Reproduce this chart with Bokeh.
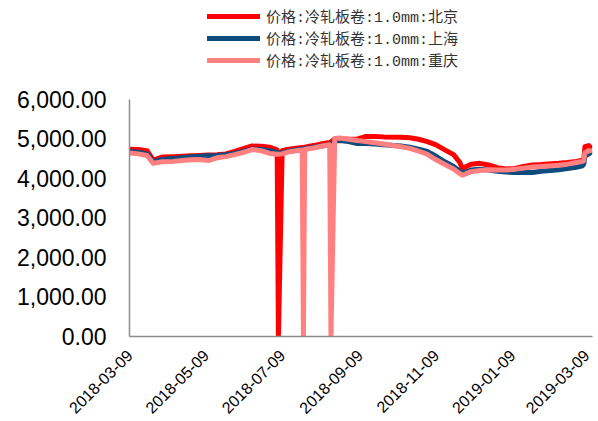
import math
from datetime import datetime

from bokeh.plotting import figure
from bokeh.models import (ColumnDataSource, Range1d, FixedTicker, DatetimeTickFormatter,
                          NumeralTickFormatter, Legend, LegendItem)
from bokeh.embed import file_html
from bokeh.resources import INLINE

# Cold-rolled coil 1.0mm prices (yuan/ton) by city
dates = [
    "2018-03-09", "2018-03-16", "2018-03-23", "2018-03-28", "2018-04-04", "2018-04-13",
    "2018-04-20", "2018-04-27", "2018-05-04", "2018-05-11", "2018-05-18", "2018-05-25",
    "2018-06-01", "2018-06-08", "2018-06-15", "2018-06-22", "2018-06-29", "2018-07-05",
    "2018-07-06", "2018-07-09", "2018-07-13", "2018-07-20", "2018-07-25", "2018-07-26",
    "2018-07-27", "2018-08-03", "2018-08-10", "2018-08-16", "2018-08-17", "2018-08-20",
    "2018-08-24", "2018-08-31", "2018-09-07", "2018-09-14", "2018-09-21", "2018-09-28",
    "2018-10-12", "2018-10-19", "2018-10-26", "2018-11-02", "2018-11-09", "2018-11-16",
    "2018-11-23", "2018-11-28", "2018-11-30", "2018-12-07", "2018-12-14", "2018-12-21",
    "2018-12-28", "2019-01-04", "2019-01-11", "2019-01-18", "2019-01-25", "2019-02-01",
    "2019-02-15", "2019-02-22", "2019-03-01", "2019-03-06", "2019-03-07", "2019-03-08",
    "2019-03-11", "2019-03-12",
]
beijing = [
    4740, 4730, 4700, 4460, 4540, 4550,
    4560, 4570, 4580, 4590, 4600, 4620,
    4680, 4750, 4820, 4810, 4790, 4720,
    0, 4700, 4730, 4760, 4780, 4780,
    4790, 4830, 4880, 4910, 4920, 5000,
    5010, 4990, 4990, 5060, 5060, 5050,
    5040, 5030, 4990, 4930, 4850, 4720,
    4600, 4400, 4250, 4360, 4380, 4340,
    4270, 4240, 4250, 4300, 4340, 4350,
    4380, 4400, 4430, 4460, 4470, 4800,
    4830, 4800,
]
shanghai = [
    4680, 4660, 4620, 4420, 4480, 4500,
    4520, 4550, 4560, 4570, 4580, 4600,
    4630, 4680, 4740, 4730, 4700, 4650,
    4640, 4640, 4680, 4720, 4740, 4745,
    4750, 4790, 4820, 4850, 4860, 4950,
    4960, 4930, 4880, 4880, 4870, 4850,
    4820, 4790, 4740, 4680, 4560, 4420,
    4300, 4180, 4130, 4210, 4230, 4210,
    4180, 4160, 4150, 4150, 4150, 4180,
    4220, 4250, 4280, 4320, 4360, 4560,
    4620, 4640,
]
chongqing = [
    4640, 4620, 4580, 4380, 4420, 4430,
    4450, 4470, 4480, 4450, 4520, 4550,
    4600, 4660, 4730, 4700, 4630, 4610,
    4610, 4620, 4660, 4700, 4720, 0,
    4730, 4770, 4820, 4850, 0, 5010,
    5020, 4990, 4960, 4930, 4900, 4870,
    4800, 4760, 4690, 4610, 4470, 4350,
    4240, 4120, 4080, 4170, 4200, 4220,
    4210, 4210, 4230, 4260, 4290, 4300,
    4330, 4360, 4400, 4430, 4450, 4650,
    4700, 4700,
]
x_tick_labels = ["2018-03-09", "2018-05-09", "2018-07-09", "2018-09-09",
                 "2018-11-09", "2019-01-09", "2019-03-09"]
y_ticks = [0, 1000, 2000, 3000, 4000, 5000, 6000]

EPOCH = datetime(1970, 1, 1)


def to_dt(s):
    return datetime.strptime(s, "%Y-%m-%d")


def to_ms(s):
    return (to_dt(s) - EPOCH).total_seconds() * 1000.0


src = ColumnDataSource(dict(
    x=[to_dt(d) for d in dates],
    bj=beijing, sh=shanghai, cq=chongqing,
))

# The frame reaches up to the top edge so the legend sits inside it;
# the value axis itself stops at 6000.
p = figure(width=598, height=421, x_axis_type="datetime",
           output_backend="svg", toolbar_location=None,
           x_range=Range1d(to_dt("2018-03-09"), to_dt("2019-03-14")),
           y_range=Range1d(0, 8500),
           min_border_left=129, min_border_right=6,
           min_border_top=0, min_border_bottom=81)
p.outline_line_color = None
p.xgrid.grid_line_color = None
p.ygrid.grid_line_color = None
p.background_fill_color = "white"
p.border_fill_color = "white"

# y axis
p.yaxis.ticker = FixedTicker(ticks=y_ticks)
p.yaxis.bounds = (0, 6000)
p.yaxis.formatter = NumeralTickFormatter(format="0,0.00")
p.yaxis.major_label_text_font = "Liberation Sans"
p.yaxis.major_label_text_font_size = "23px"
p.yaxis.major_label_text_color = "#000000"
p.yaxis.major_label_standoff = 17
p.yaxis.major_tick_line_color = None
p.yaxis.minor_tick_line_color = None
p.yaxis.axis_line_color = "#8c8c8c"
p.yaxis.axis_line_width = 1.5

# x axis
p.xaxis.ticker = FixedTicker(ticks=[to_ms(s) for s in x_tick_labels])
p.xaxis.formatter = DatetimeTickFormatter(
    days="%Y-%m-%d", months="%Y-%m-%d", years="%Y-%m-%d", hours="%Y-%m-%d")
p.xaxis.major_label_orientation = math.pi / 4
p.xaxis.major_label_text_font = "Liberation Sans"
p.xaxis.major_label_text_font_size = "16px"
p.xaxis.major_label_text_color = "#000000"
p.xaxis.major_label_standoff = 10
p.xaxis.major_tick_line_color = None
p.xaxis.minor_tick_line_color = None
p.xaxis.axis_line_color = "#8c8c8c"
p.xaxis.axis_line_width = 1.5

common = dict(source=src, line_width=5, line_join="round", line_cap="round")
r_bj = p.line("x", "bj", color="#FF0000", **common)
r_sh = p.line("x", "sh", color="#0E4C7E", **common)
r_cq = p.line("x", "cq", color="#FF8080", **common)

legend = Legend(items=[
    LegendItem(label="价格:冷轧板卷:1.0mm:北京", renderers=[r_bj]),
    LegendItem(label="价格:冷轧板卷:1.0mm:上海", renderers=[r_sh]),
    LegendItem(label="价格:冷轧板卷:1.0mm:重庆", renderers=[r_cq]),
], location=(78, 265), orientation="vertical",
    glyph_width=53, glyph_height=14, label_height=14, spacing=-3,
    padding=0, margin=0, border_line_color=None, background_fill_alpha=0,
    label_standoff=6, label_text_font_size="15px",
    label_text_font="'Liberation Mono', 'Noto Sans CJK SC'",
    label_text_color="#333333")
p.add_layout(legend)

open("out.html", "w").write(file_html(p, INLINE))
